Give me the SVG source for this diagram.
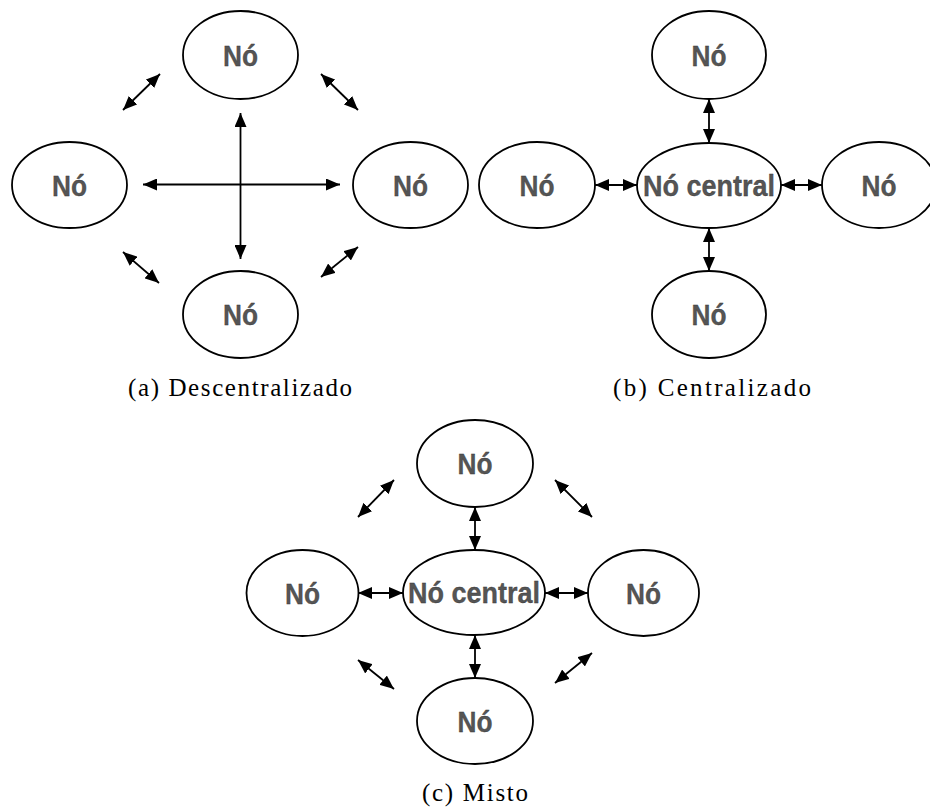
<svg xmlns="http://www.w3.org/2000/svg" width="930" height="809" viewBox="0 0 930 809">
<defs>
<marker id="ah" viewBox="0 0 14 12" refX="14" refY="6" markerWidth="14" markerHeight="12" markerUnits="userSpaceOnUse" orient="auto-start-reverse">
<path d="M0,0 L14,6 L0,12 Z" fill="#000"/>
</marker>
</defs>
<style>
.n{fill:#fff;stroke:#000;stroke-width:1.8}
.t{font-family:"Liberation Sans",Arial,sans-serif;font-size:30px;font-weight:bold;fill:#555;stroke:#333;stroke-width:0.3;text-anchor:middle}
.c{font-family:"Liberation Serif","Times New Roman",serif;font-size:25px;fill:#000;text-anchor:middle}
.a{stroke:#000;stroke-width:1.8;fill:none;marker-start:url(#ah);marker-end:url(#ah)}
</style>
<rect width="930" height="809" fill="#fff"/>
<g id="connectors">
<line class="a" x1="240.5" y1="113" x2="240.5" y2="259"/>
<line class="a" x1="143" y1="184.5" x2="340" y2="184.5"/>
<line class="a" x1="123" y1="110" x2="160" y2="74"/>
<line class="a" x1="321" y1="74" x2="358" y2="110"/>
<line class="a" x1="123" y1="252" x2="159" y2="283"/>
<line class="a" x1="321" y1="277" x2="358" y2="247"/>
<line class="a" x1="709" y1="99" x2="709" y2="143"/>
<line class="a" x1="709" y1="228" x2="709" y2="271"/>
<line class="a" x1="595" y1="185" x2="637" y2="185"/>
<line class="a" x1="781" y1="185" x2="822" y2="185"/>
<line class="a" x1="475" y1="507" x2="475" y2="550"/>
<line class="a" x1="475" y1="635" x2="475" y2="678"/>
<line class="a" x1="358" y1="593" x2="403" y2="593"/>
<line class="a" x1="545" y1="593" x2="588" y2="593"/>
<line class="a" x1="358" y1="517" x2="394" y2="480"/>
<line class="a" x1="555" y1="480" x2="592" y2="517"/>
<line class="a" x1="358" y1="660" x2="394" y2="689"/>
<line class="a" x1="555" y1="683" x2="592" y2="653"/>
</g>
<g id="a-top"><ellipse class="n" cx="240.5" cy="55" rx="57.5" ry="44"/><text class="t" x="240.5" y="66" textLength="35" lengthAdjust="spacingAndGlyphs">Nó</text></g>
<g id="a-left"><ellipse class="n" cx="69.5" cy="185" rx="57.5" ry="43"/><text class="t" x="69.5" y="196" textLength="35" lengthAdjust="spacingAndGlyphs">Nó</text></g>
<g id="a-right"><ellipse class="n" cx="410.5" cy="185" rx="57.5" ry="43"/><text class="t" x="410.5" y="196" textLength="35" lengthAdjust="spacingAndGlyphs">Nó</text></g>
<g id="a-bottom"><ellipse class="n" cx="240.5" cy="314.5" rx="57.5" ry="43.5"/><text class="t" x="240.5" y="325" textLength="35" lengthAdjust="spacingAndGlyphs">Nó</text></g>
<g id="b-top"><ellipse class="n" cx="709" cy="55" rx="57" ry="44"/><text class="t" x="709" y="66" textLength="35" lengthAdjust="spacingAndGlyphs">Nó</text></g>
<g id="b-left"><ellipse class="n" cx="537" cy="185" rx="58" ry="43"/><text class="t" x="537" y="196" textLength="35" lengthAdjust="spacingAndGlyphs">Nó</text></g>
<g id="b-center"><ellipse class="n" cx="709" cy="185.5" rx="72" ry="42.5"/><text class="t" x="709" y="196" textLength="132" lengthAdjust="spacingAndGlyphs">Nó central</text></g>
<g id="b-right"><ellipse class="n" cx="879" cy="185" rx="57" ry="43"/><text class="t" x="879" y="196" textLength="35" lengthAdjust="spacingAndGlyphs">Nó</text></g>
<g id="b-bottom"><ellipse class="n" cx="709" cy="314.5" rx="57" ry="43.5"/><text class="t" x="709" y="325" textLength="35" lengthAdjust="spacingAndGlyphs">Nó</text></g>
<g id="c-top"><ellipse class="n" cx="475" cy="463.5" rx="58" ry="43.5"/><text class="t" x="475" y="474" textLength="35" lengthAdjust="spacingAndGlyphs">Nó</text></g>
<g id="c-left"><ellipse class="n" cx="302.5" cy="593" rx="56" ry="43"/><text class="t" x="302.5" y="604" textLength="35" lengthAdjust="spacingAndGlyphs">Nó</text></g>
<g id="c-center"><ellipse class="n" cx="474" cy="592.5" rx="71" ry="42.5"/><text class="t" x="474" y="603" textLength="132" lengthAdjust="spacingAndGlyphs">Nó central</text></g>
<g id="c-right"><ellipse class="n" cx="643.5" cy="593" rx="55.5" ry="43"/><text class="t" x="643.5" y="604" textLength="35" lengthAdjust="spacingAndGlyphs">Nó</text></g>
<g id="c-bottom"><ellipse class="n" cx="475" cy="721" rx="58" ry="43"/><text class="t" x="475" y="732" textLength="35" lengthAdjust="spacingAndGlyphs">Nó</text></g>
<g id="captions">
<text class="c" x="240" y="396" textLength="224" lengthAdjust="spacing">(a) Descentralizado</text>
<text class="c" x="712" y="396" textLength="198" lengthAdjust="spacing">(b) Centralizado</text>
<text class="c" x="475" y="801" textLength="106" lengthAdjust="spacing">(c) Misto</text>
</g>
</svg>
